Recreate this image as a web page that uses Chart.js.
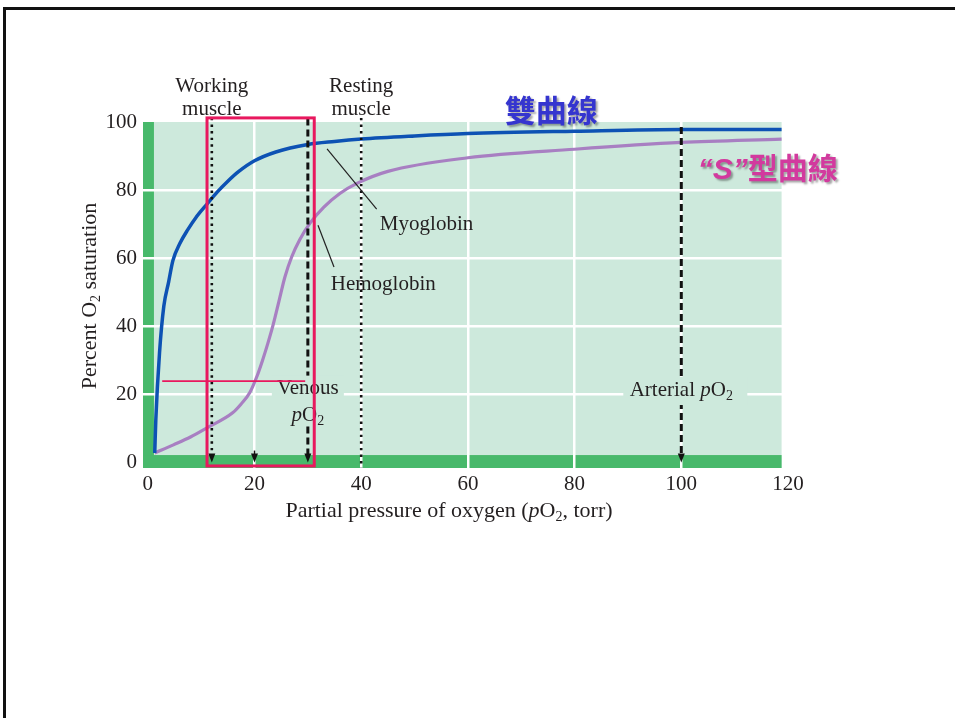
<!DOCTYPE html>
<html><head><meta charset="utf-8">
<script src="https://cdn.jsdelivr.net/npm/chart.js@4.4.1/dist/chart.umd.min.js"></script>
<style>
html,body{margin:0;padding:0;background:#fff;}
#wrap{position:relative;width:955px;height:718px;overflow:hidden;}
#frame{position:absolute;left:3px;top:7px;width:980px;height:740px;border-top:3px solid #111;border-left:3px solid #111;}
canvas{position:absolute;left:0;top:0;}
</style></head><body>
<div id="wrap"><div id="frame"></div><canvas id="c" width="955" height="718"></canvas></div>
<script>
// ---- data ----
const xTicks = [0, 20, 40, 60, 80, 100, 120];
const yTicks = [0, 20, 40, 60, 80, 100];
const myoglobinPO2 = [1.3, 1.5, 2.2, 3.0, 3.9, 4.7, 6, 7.5, 9, 11.1, 13, 15, 17, 20, 24, 30, 35, 40, 50, 60, 80, 100, 118.8];
const myoglobinSat = [2.8, 12.5, 32.3, 45.9, 53, 59.3, 64.3, 68.4, 71.9, 75.9, 79.4, 82.6, 85.4, 88.6, 91.2, 93.4, 94.3, 95.0, 95.9, 96.6, 97.3, 97.8, 97.8];
const hemoglobinPO2 = [1.3, 4.8, 8, 11.1, 15.9, 17.5, 19.1, 20.5, 21.5, 22.5, 23.5, 24.6, 25.7, 27, 28.5, 30.4, 33, 36, 39.1, 45, 60, 80, 100, 118.8];
const hemoglobinSat = [2.8, 5.2, 7.5, 10.2, 14.6, 17.2, 20.5, 25.5, 30, 35, 40.5, 47.5, 54.5, 60.5, 65.5, 70.3, 75, 79, 81.9, 85.5, 89.5, 92, 94, 95];
const workingPO2 = 12, restingPO2 = 40, venousPO2 = 30, arterialPO2 = 100, venousMidPO2 = 20;
const highlightPO2 = [11.1, 31.2];       // red box
const highlightSat = [-1.0, 101.2];
const markerLinePO2 = [2.7, 29.5];       // red horizontal line
const markerLineSat = 23.9;

// ---- styles ----
const MINT = '#cde9dc', GREEN = '#48b96b', BLUE = '#0d52b4', PURPLE = '#a87fc2', RED = '#e8185e', INK = '#231f20';
const SERIF = "'Liberation Serif','DejaVu Serif',serif";

function rich(ctx, parts, x, y, align) {
  let w = 0;
  parts.forEach(p => { ctx.font = p.font; p.w = ctx.measureText(p.t).width; w += p.w; });
  let cx = align === 'center' ? x - w / 2 : (align === 'right' ? x - w : x);
  ctx.textAlign = 'left'; ctx.textBaseline = 'alphabetic';
  parts.forEach(p => { ctx.font = p.font; ctx.fillStyle = p.color || INK; ctx.fillText(p.t, cx, y + (p.dy || 0)); cx += p.w; });
  return w;
}
const F = (s, st) => (st || '') + ' ' + s + 'px ' + SERIF;
const pO2 = (size) => [{t: 'p', font: F(size, 'italic')}, {t: 'O', font: F(size)}, {t: '2', font: F(Math.round(size * 0.65)), dy: 4}];

const bgPlugin = {
  id: 'bg',
  beforeDraw(chart) {
    const {ctx, chartArea: ca, scales: {x, y}} = chart;
    const xr = x.getPixelForValue(118.8);
    ctx.save();
    ctx.fillStyle = MINT; ctx.fillRect(ca.left, ca.top, xr - ca.left, ca.bottom - ca.top);
    ctx.fillStyle = GREEN;
    ctx.fillRect(ca.left, ca.top, x.getPixelForValue(1.15) - ca.left, ca.bottom - ca.top);
    const yb = y.getPixelForValue(2.2);
    ctx.fillRect(ca.left, yb, xr - ca.left, ca.bottom - yb);
    ctx.restore();
  }
};

function vline(ctx, px, y1, y2, dash, w) {
  ctx.save(); ctx.strokeStyle = '#111'; ctx.lineWidth = w; ctx.setLineDash(dash);
  ctx.beginPath(); ctx.moveTo(px, y1); ctx.lineTo(px, y2); ctx.stroke(); ctx.restore();
}
function arrow(ctx, px, tip) {
  ctx.save(); ctx.fillStyle = '#111'; ctx.beginPath();
  ctx.moveTo(px, tip); ctx.lineTo(px - 3.5, tip - 9); ctx.lineTo(px + 3.5, tip - 9); ctx.closePath(); ctx.fill(); ctx.restore();
}

const annPlugin = {
  id: 'ann',
  afterDraw(chart) {
    const {ctx, scales: {x, y}} = chart;
    const X = v => x.getPixelForValue(v), Y = v => y.getPixelForValue(v);
    const y0 = Y(0);
    const DOT = [2.4, 4.2], DASH = [7, 4];
    // vertical reference lines
    vline(ctx, X(workingPO2), Y(101.2), y0 - 8, DOT, 2.6); arrow(ctx, X(workingPO2), y0);
    vline(ctx, X(venousPO2), Y(101.0), y0 - 8, DASH, 3); arrow(ctx, X(venousPO2), y0);
    vline(ctx, X(restingPO2), Y(101.2), Y(-1.6), DOT, 2.6);
    vline(ctx, X(arterialPO2), Y(98.5), y0 - 8, DASH, 3); arrow(ctx, X(arterialPO2), y0);
    vline(ctx, X(venousMidPO2), y0 - 12, y0 - 7, [], 1.5); arrow(ctx, X(venousMidPO2), y0);

    ctx.save();
    // label backgrounds
    ctx.fillStyle = MINT;
    ctx.fillRect(X(venousPO2) - 36, Y(22.3) - 11, 72, 48);
    ctx.fillRect(X(arterialPO2) - 58, Y(21.3) - 13, 124, 28);
    // text labels
    rich(ctx, [{t: 'Venous', font: F(21)}], X(venousPO2), Y(22.3) + 7, 'center');
    rich(ctx, pO2(21), X(venousPO2), Y(14.0) + 6, 'center');
    rich(ctx, [{t: 'Arterial ', font: F(21)}, ...pO2(21)], X(arterialPO2), Y(21.3) + 6, 'center');
    rich(ctx, [{t: 'Working', font: F(21)}], X(workingPO2), Y(108.7), 'center');
    rich(ctx, [{t: 'muscle', font: F(21)}], X(workingPO2), Y(102.1), 'center');
    rich(ctx, [{t: 'Resting', font: F(21)}], X(restingPO2), Y(108.7), 'center');
    rich(ctx, [{t: 'muscle', font: F(21)}], X(restingPO2), Y(102.1), 'center');
    rich(ctx, [{t: 'Myoglobin', font: F(21)}], X(43.5), Y(70.3) + 7, 'left');
    rich(ctx, [{t: 'Hemoglobin', font: F(21)}], X(34.3), Y(52.7) + 7, 'left');
    // leader lines
    ctx.strokeStyle = '#222'; ctx.lineWidth = 1.2; ctx.setLineDash([]);
    ctx.beginPath(); ctx.moveTo(X(33.6), Y(92.1)); ctx.lineTo(X(42.9), Y(74.4)); ctx.stroke();
    ctx.beginPath(); ctx.moveTo(X(31.9), Y(69.7)); ctx.lineTo(X(34.9), Y(57.4)); ctx.stroke();
    // red highlight
    ctx.strokeStyle = RED; ctx.lineWidth = 1.6;
    ctx.beginPath(); ctx.moveTo(X(markerLinePO2[0]), Y(markerLineSat)); ctx.lineTo(X(markerLinePO2[1]), Y(markerLineSat)); ctx.stroke();
    ctx.lineWidth = 3;
    ctx.strokeRect(X(highlightPO2[0]), Y(highlightSat[1]), X(highlightPO2[1]) - X(highlightPO2[0]), Y(highlightSat[0]) - Y(highlightSat[1]));
    // Chinese labels
    ctx.shadowColor = 'rgba(0,0,0,0.35)'; ctx.shadowOffsetX = 2; ctx.shadowOffsetY = 2; ctx.shadowBlur = 2;
    rich(ctx, [{t: '雙曲線', font: "bold 31px 'Noto Sans CJK TC'", color: '#3535cf'}], X(75.6), Y(103.2) + 11, 'center');
    rich(ctx, [{t: '“S”', font: "italic bold 30px 'Liberation Sans'", color: '#d23a9e'}, {t: '型曲線', font: "bold 30px 'Noto Sans CJK TC'", color: '#d23a9e'}], X(116.2), Y(86.5) + 11, 'center');
    ctx.shadowColor = 'transparent';
    // axis titles
    rich(ctx, [{t: 'Partial pressure of oxygen (', font: F(22)}, ...pO2(22), {t: ', torr)', font: F(22)}], 449, 517, 'center');
    ctx.translate(89, 296); ctx.rotate(-Math.PI / 2);
    rich(ctx, [{t: 'Percent O', font: F(22)}, {t: '2', font: F(14), dy: 4}, {t: ' saturation', font: F(22)}], 0, 7, 'center');
    ctx.restore();
  }
};

const toPts = (xs, ys) => xs.map((v, i) => ({x: v, y: ys[i]}));

new Chart(document.getElementById('c'), {
  type: 'line',
  data: {
    datasets: [
      {label: 'Myoglobin', data: toPts(myoglobinPO2, myoglobinSat), borderColor: BLUE, borderWidth: 3.5, pointRadius: 0, cubicInterpolationMode: 'monotone', order: 1},
      {label: 'Hemoglobin', data: toPts(hemoglobinPO2, hemoglobinSat), borderColor: PURPLE, borderWidth: 3.2, pointRadius: 0, cubicInterpolationMode: 'monotone', order: 2}
    ]
  },
  options: {
    responsive: false, animation: false, devicePixelRatio: 1,
    layout: {padding: {left: 0, top: 122, right: 167, bottom: 0}},
    plugins: {legend: {display: false}, tooltip: {enabled: false}},
    scales: {
      x: {
        type: 'linear', min: -0.9, max: 120,
        afterFit: s => { s.height = 250; },
        afterBuildTicks: s => { s.ticks = xTicks.map(v => ({value: v})); },
        border: {display: false},
        grid: {drawTicks: false, lineWidth: 2.5, color: c => (c.tick && (c.tick.value === 0 || c.tick.value === 120)) ? 'rgba(0,0,0,0)' : '#ffffff'},
        ticks: {padding: 4, autoSkip: false, maxRotation: 0, color: INK, font: {family: SERIF, size: 21}}
      },
      y: {
        type: 'linear', min: -1.6, max: 100,
        afterFit: s => { s.width = 143; },
        afterBuildTicks: s => { s.ticks = yTicks.map(v => ({value: v})); },
        border: {display: false},
        grid: {drawTicks: false, lineWidth: 2.5, color: c => (c.tick && (c.tick.value === 0 || c.tick.value === 100)) ? 'rgba(0,0,0,0)' : '#ffffff'},
        ticks: {padding: 6, color: INK, font: {family: SERIF, size: 21}}
      }
    }
  },
  plugins: [bgPlugin, annPlugin]
});
</script>
</body></html>
